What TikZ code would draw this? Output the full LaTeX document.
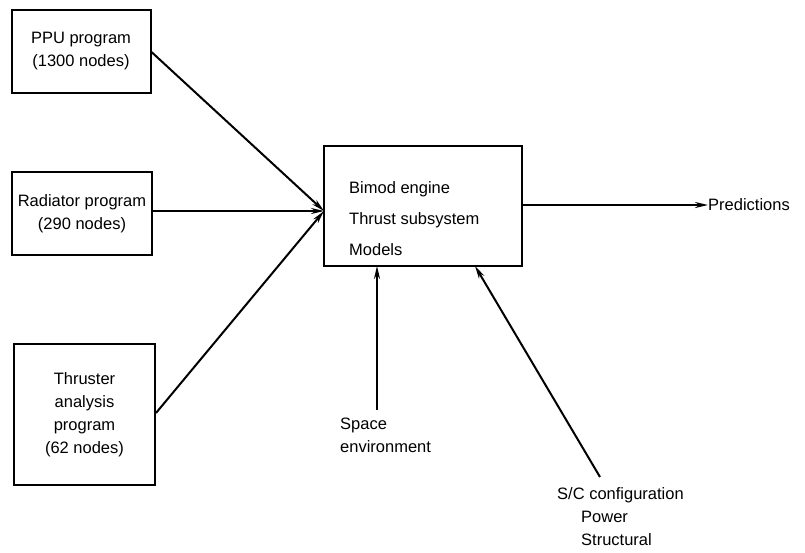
\documentclass[tikz,border=0pt]{standalone}
\usepackage{fontspec}
\setmainfont{Liberation Sans}
\usetikzlibrary{arrows.meta}
\begin{document}
\begin{tikzpicture}[x=1pt,y=-1pt,
  every node/.style={font=\fontsize{16.5}{23}\selectfont},
  box/.style={draw,line width=2pt,inner sep=0pt,align=center},
  lbl/.style={inner sep=0pt,align=left},
  conn/.style={line width=2pt,-{Stealth[length=13pt,width=6pt]}}]
\useasboundingbox (0,0) rectangle (805,552);
\node[box,minimum width=139pt,minimum height=83pt] (ppu) at (81,51.5) {PPU program\\(1300 nodes)};
\node[box,minimum width=140pt,minimum height=83pt] (rad) at (82,213.5) {Radiator program\\(290 nodes)};
\node[box,minimum width=141pt,minimum height=141pt] (thr) at (84.5,414.5) {Thruster\\analysis\\program\\(62 nodes)};
\node[box,minimum width=198pt,minimum height=120pt] (core) at (423,206) {};
\node[lbl,anchor=north west,font=\fontsize{16.5}{31}\selectfont] (coretext) at (349,181) {Bimod engine\\Thrust subsystem\\Models};
\coordinate (conv) at (324,211);
\node[lbl,anchor=west] (pred) at (708,205) {Predictions};
\node[lbl,anchor=north west] (space) at (340,418) {Space\\environment};
\node[lbl,anchor=north west] (sc) at (557,487) {S/C configuration\\\hspace{24pt}Power\\\hspace{24pt}Structural};
\coordinate (spaceend) at (377,410);
\coordinate (scend) at (600,477);
\coordinate (scin) at (475,266);
\coordinate (spacein) at (377,266);
\draw[conn] (ppu.east |- 0,52) -- (conv);
\draw[conn] (rad.east |- 0,211) -- (conv);
\draw[conn] (thr.east |- 0,413) -- (conv);
\draw[conn] (core.east |- 0,205) -- (pred.west);
\draw[conn] (spaceend) -- (spacein);
\draw[conn] (scend) -- (scin);
\end{tikzpicture}
\end{document}
